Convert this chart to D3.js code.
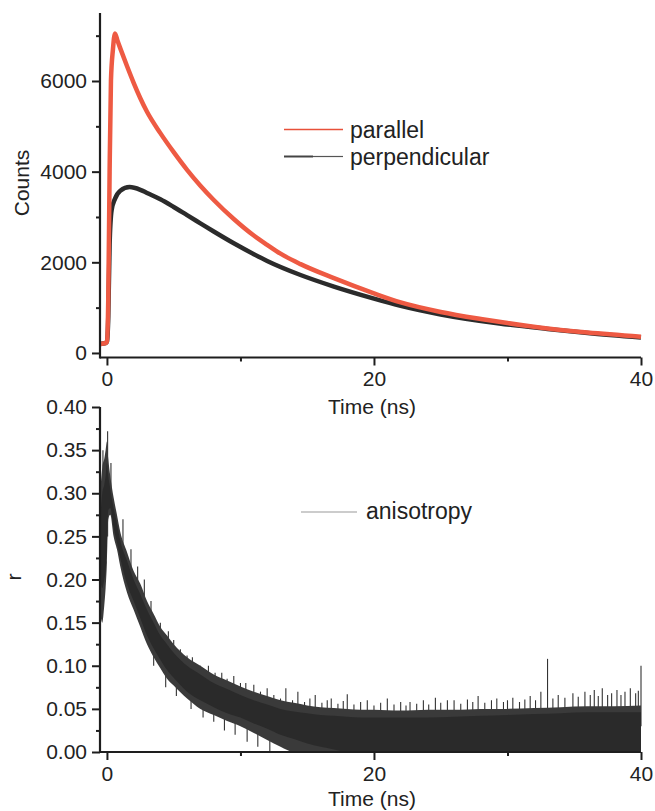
<!DOCTYPE html>
<html>
<head>
<meta charset="utf-8">
<script src="https://cdn.jsdelivr.net/npm/d3@7"></script>
<style>
  body { margin: 0; background: #fff; }
  text { font-family: "Liberation Sans", Arial, sans-serif; fill: #222; }
</style>
</head>
<body>
<div id="chart"></div>
<script>
// ---- data ----
// top panel: polarised decays (Counts vs Time in ns)
const parTime   = [-0.5, -0.1, 0.0, 0.1, 0.2, 0.3, 0.45, 0.6, 0.8, 1.0, 1.5, 2.0, 2.5, 3.0, 4.0, 5.0, 6.0, 7.0, 8.0, 9.5, 11.0, 12.0, 13.0, 14.5, 17.0, 20.0, 22.0, 25.0, 28.0, 30.0, 33.0, 36.0, 40.0];
const parCounts = [200, 220, 250, 1200, 4000, 6000, 6700, 7050, 6880, 6720, 6330, 5960, 5620, 5320, 4850, 4430, 4040, 3690, 3375, 2955, 2590, 2385, 2190, 1960, 1650, 1315, 1115, 905, 750, 660, 540, 450, 360];

const perpTime   = [-0.5, -0.1, 0.0, 0.1, 0.2, 0.35, 0.6, 1.0, 1.7, 2.5, 3.0, 4.0, 5.0, 6.0, 7.0, 8.0, 9.5, 11.0, 12.0, 14.5, 17.0, 20.0, 22.0, 25.0, 29.4, 33.0, 36.0, 40.0];
const perpCounts = [200, 220, 250, 800, 2400, 3150, 3400, 3580, 3660, 3600, 3530, 3390, 3220, 3040, 2860, 2680, 2420, 2180, 2030, 1720, 1465, 1200, 1040, 850, 650, 530, 440, 340];

// bottom panel: anisotropy r, noisy band (outer = ragged edge, core = dense trace)
const aniTime    = [-0.5, -0.35, -0.2, -0.1, 0, 0.1, 0.25, 0.5, 0.75, 1, 1.5, 2, 2.5, 3, 3.5, 4, 4.5, 5, 6, 7, 8, 9, 10, 11, 12, 13, 14, 15, 16, 17, 18, 19, 20, 22, 24, 26, 28, 30, 32, 34, 36, 38, 40];
const aniOuterHi = [0.30, 0.33, 0.34, 0.35, 0.36, 0.34, 0.32, 0.295, 0.275, 0.255, 0.232, 0.21, 0.195, 0.175, 0.16, 0.145, 0.135, 0.125, 0.11, 0.10, 0.09, 0.083, 0.076, 0.07, 0.065, 0.06, 0.057, 0.054, 0.052, 0.051, 0.05, 0.049, 0.049, 0.048, 0.049, 0.049, 0.05, 0.05, 0.051, 0.052, 0.053, 0.053, 0.054];
const aniOuterLo = [0.16, 0.15, 0.17, 0.19, 0.22, 0.27, 0.275, 0.25, 0.235, 0.215, 0.185, 0.165, 0.145, 0.125, 0.11, 0.097, 0.085, 0.077, 0.062, 0.05, 0.043, 0.036, 0.03, 0.022, 0.014, 0.006, 0, 0, 0, 0, 0, 0, 0, 0, 0, 0, 0, 0, 0, 0, 0, 0, 0];
const aniCoreHi  = [0.27, 0.30, 0.31, 0.32, 0.335, 0.32, 0.305, 0.283, 0.265, 0.245, 0.222, 0.2, 0.183, 0.165, 0.15, 0.135, 0.125, 0.115, 0.1, 0.09, 0.08, 0.073, 0.066, 0.06, 0.055, 0.05, 0.047, 0.045, 0.043, 0.042, 0.041, 0.04, 0.04, 0.04, 0.04, 0.041, 0.042, 0.043, 0.044, 0.045, 0.046, 0.046, 0.046];
const aniCoreLo  = [0.20, 0.19, 0.2, 0.21, 0.24, 0.28, 0.283, 0.26, 0.243, 0.225, 0.195, 0.175, 0.155, 0.135, 0.12, 0.107, 0.095, 0.086, 0.07, 0.06, 0.052, 0.045, 0.04, 0.033, 0.027, 0.02, 0.015, 0.01, 0.006, 0.003, 0, 0, 0, 0, 0, 0, 0, 0, 0, 0, 0, 0, 0];

// single spikes that stick out of the band (time, start r, end r)
const spikeTime = [-0.3, 0.05, 0.3, 1.2, 1.8, 2.3, 2.8, 3.3, 4.0, 4.6, 5.0, 5.5, 6.0, 6.4, 7.0, 7.6, 8.1, 8.6, 9.0, 9.5, 10.0, 10.4, 11.0, 11.5,
  3.5, 4.4, 5.2, 6.3, 7.2, 8.0, 8.8, 9.6, 10.5, 11.3, 12.2,
  12.0, 12.5, 13.0, 13.4, 13.9, 14.3, 14.8, 15.2, 15.6, 16.1, 16.5, 16.8, 17.3, 17.7, 18.0, 18.5, 19.0, 19.5, 20.0, 20.5, 21.0, 21.5, 22.0, 22.4, 22.7, 23.2, 23.7, 24.1, 24.6, 25.0, 25.5, 26.0, 26.5, 27.0, 27.4, 27.8, 28.3, 28.8, 29.2, 29.7, 30.0, 30.4, 30.9, 31.3, 31.7, 32.1, 32.5, 33.0, 33.4, 33.8, 34.3, 34.9, 35.3, 35.8, 36.2, 36.5, 36.8, 37.1, 37.5, 37.8, 38.2, 38.5, 38.8, 39.2, 39.6, 39.8, 40.0];
const spikeBase = [0.2, 0.25, 0.29, 0.23, 0.2, 0.18, 0.16, 0.14, 0.11, 0.1, 0.09, 0.09, 0.08, 0.075, 0.065, 0.065, 0.06, 0.055, 0.05, 0.05, 0.045, 0.045, 0.04, 0.035,
  0.12, 0.095, 0.085, 0.07, 0.06, 0.052, 0.045, 0.04, 0.035, 0.03, 0.025,
  0.03, 0.03, 0.03, 0.03, 0.03, 0.03, 0.03, 0.03, 0.03, 0.03, 0.03, 0.03, 0.03, 0.03, 0.03, 0.03, 0.03, 0.03, 0.03, 0.03, 0.03, 0.03, 0.03, 0.03, 0.03, 0.03, 0.03, 0.03, 0.03, 0.03, 0.03, 0.03, 0.03, 0.03, 0.03, 0.03, 0.03, 0.03, 0.03, 0.03, 0.03, 0.03, 0.03, 0.03, 0.03, 0.03, 0.03, 0.03, 0.03, 0.03, 0.03, 0.03, 0.03, 0.03, 0.03, 0.03, 0.03, 0.03, 0.03, 0.03, 0.03, 0.03, 0.03, 0.03, 0.03, 0.03, 0.03];
const spikeTop  = [0.35, 0.372, 0.335, 0.27, 0.235, 0.215, 0.2, 0.175, 0.15, 0.14, 0.13, 0.119, 0.112, 0.11, 0.1, 0.1, 0.092, 0.092, 0.085, 0.088, 0.08, 0.08, 0.078, 0.07,
  0.1, 0.075, 0.065, 0.05, 0.04, 0.035, 0.025, 0.02, 0.012, 0.006, 0,
  0.074, 0.066, 0.062, 0.074, 0.06, 0.07, 0.058, 0.062, 0.066, 0.057, 0.06, 0.062, 0.056, 0.059, 0.067, 0.055, 0.058, 0.06, 0.054, 0.057, 0.062, 0.055, 0.058, 0.054, 0.058, 0.056, 0.06, 0.055, 0.063, 0.057, 0.06, 0.06, 0.056, 0.061, 0.058, 0.065, 0.057, 0.06, 0.062, 0.058, 0.06, 0.063, 0.058, 0.061, 0.065, 0.06, 0.07, 0.108, 0.062, 0.066, 0.063, 0.068, 0.064, 0.07, 0.066, 0.072, 0.065, 0.074, 0.066, 0.068, 0.072, 0.066, 0.07, 0.074, 0.068, 0.071, 0.1];

const timeTicks  = [0, 20, 40];
const timeMinor  = [10, 30];
const countTicks = [0, 2000, 4000, 6000];
const countMinor = [1000, 3000, 5000, 7000];
const rTicks     = [0, 0.05, 0.1, 0.15, 0.2, 0.25, 0.3, 0.35, 0.4];
const rMinor     = [0.025, 0.075, 0.125, 0.175, 0.225, 0.275, 0.325, 0.375];

const width = 655, height = 811;
const axisColor = "#1e1e1e";
const redColor = "#ee5a43";
const blackColor = "#2b2b2b";

const svg = d3.select("#chart").append("svg")
  .attr("width", width)
  .attr("height", height);

// shared time scale
const x = d3.scaleLinear().domain([-0.52, 40]).range([100, 641]);

// top panel scale
const yTop = d3.scaleLinear().domain([-100, 7500]).range([357.5, 13]);
// bottom panel scale
const yBot = d3.scaleLinear().domain([0, 0.4]).range([752, 407]);

function drawAxes(yScale, yMajor, yMinor, yFmt, bottomY, topY) {
  const g = svg.append("g");
  // x axis
  const gx = g.append("g").attr("transform", `translate(0,${bottomY})`);
  gx.call(d3.axisBottom(x).tickValues(timeTicks).tickSize(8).tickPadding(6).tickFormat(d3.format("d")));
  gx.append("g").call(d3.axisBottom(x).tickValues(timeMinor).tickSize(4).tickFormat(""));
  // y axis
  const gy = g.append("g").attr("transform", "translate(100,0)");
  gy.call(d3.axisLeft(yScale).tickValues(yMajor).tickSize(8).tickPadding(5).tickFormat(yFmt));
  gy.append("g").call(d3.axisLeft(yScale).tickValues(yMinor).tickSize(4).tickFormat(""));

  g.selectAll(".domain").remove();
  g.selectAll(".tick line").attr("stroke", axisColor).attr("stroke-width", 2);
  g.selectAll(".tick text").style("font-size", "21px").attr("fill", "#222");

  g.append("line").attr("x1", 100).attr("x2", 641).attr("y1", bottomY).attr("y2", bottomY)
    .attr("stroke", axisColor).attr("stroke-width", 2.2);
  g.append("line").attr("x1", 100).attr("x2", 100).attr("y1", topY).attr("y2", bottomY + 1)
    .attr("stroke", axisColor).attr("stroke-width", 2.2);
  return g;
}

// ---------- top panel ----------
const parData = parTime.map((t, i) => ({ t: t, c: parCounts[i] }));
const perpData = perpTime.map((t, i) => ({ t: t, c: perpCounts[i] }));

const decayLine = d3.line()
  .x(d => x(d.t))
  .y(d => yTop(d.c))
  .curve(d3.curveMonotoneX);

svg.append("path").datum(perpData)
  .attr("d", decayLine)
  .attr("fill", "none")
  .attr("stroke", blackColor)
  .attr("stroke-width", 4.5)
  .attr("stroke-linejoin", "round");

svg.append("path").datum(parData)
  .attr("d", decayLine)
  .attr("fill", "none")
  .attr("stroke", redColor)
  .attr("stroke-width", 4.5)
  .attr("stroke-linejoin", "round");

drawAxes(yTop, countTicks, countMinor, d3.format("d"), 357.5, 13);

svg.append("text")
  .attr("x", 372).attr("y", 414)
  .attr("text-anchor", "middle")
  .style("font-size", "21px")
  .text("Time (ns)");

svg.append("text")
  .attr("transform", "translate(29,183) rotate(-90)")
  .attr("text-anchor", "middle")
  .style("font-size", "21px")
  .text("Counts");

// legend top
svg.append("line").attr("x1", 284).attr("x2", 343).attr("y1", 129.5).attr("y2", 129.5)
  .attr("stroke", "#e8503a").attr("stroke-width", 1.4);
svg.append("text").attr("x", 350).attr("y", 138).style("font-size", "23px").text("parallel");
svg.append("line").attr("x1", 284).attr("x2", 313).attr("y1", 156.5).attr("y2", 156.5)
  .attr("stroke", "#444").attr("stroke-width", 2);
svg.append("line").attr("x1", 313).attr("x2", 343).attr("y1", 156.5).attr("y2", 156.5)
  .attr("stroke", "#555").attr("stroke-width", 1.2);
svg.append("text").attr("x", 350).attr("y", 165).style("font-size", "23px").text("perpendicular");

// ---------- bottom panel ----------
const aniData = aniTime.map((t, i) => ({
  t: t, oh: aniOuterHi[i], ol: aniOuterLo[i], ch: aniCoreHi[i], cl: aniCoreLo[i]
}));

const spikes = svg.append("g");
spikeTime.forEach((t, i) => {
  spikes.append("line")
    .attr("x1", x(t)).attr("x2", x(t))
    .attr("y1", yBot(spikeBase[i])).attr("y2", yBot(spikeTop[i]))
    .attr("stroke", "#333").attr("stroke-width", 1.1);
});

svg.append("path").datum(aniData)
  .attr("d", d3.area().x(d => x(d.t)).y0(d => yBot(d.ol)).y1(d => yBot(d.oh)).curve(d3.curveMonotoneX))
  .attr("fill", "#3a3a3a");

svg.append("path").datum(aniData)
  .attr("d", d3.area().x(d => x(d.t)).y0(d => yBot(d.cl)).y1(d => yBot(d.ch)).curve(d3.curveMonotoneX))
  .attr("fill", "#2a2a2a");

drawAxes(yBot, rTicks, rMinor, d3.format(".2f"), 752, 407);

svg.append("text")
  .attr("x", 372).attr("y", 806)
  .attr("text-anchor", "middle")
  .style("font-size", "21px")
  .text("Time (ns)");

svg.append("text")
  .attr("transform", "translate(21,577) rotate(-90)")
  .attr("text-anchor", "middle")
  .style("font-size", "21px")
  .text("r");

// legend bottom
svg.append("line").attr("x1", 301).attr("x2", 357).attr("y1", 512).attr("y2", 512)
  .attr("stroke", "#999").attr("stroke-width", 1.2);
svg.append("text").attr("x", 366).attr("y", 519).style("font-size", "23px").text("anisotropy");
</script>
</body>
</html>
